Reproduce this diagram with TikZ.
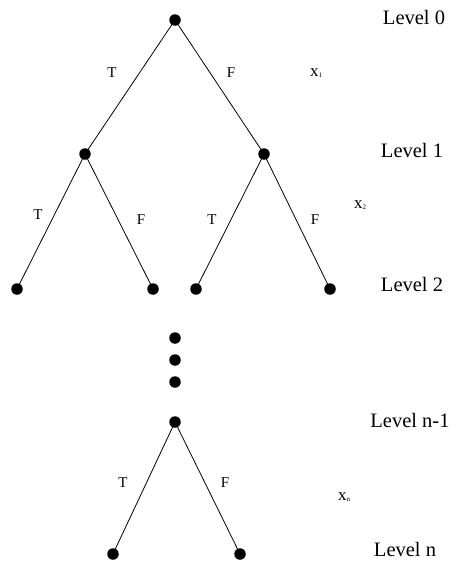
\documentclass[tikz,border=0pt]{standalone}
\usepackage{fontspec}
\setmainfont{Liberation Serif}
\begin{document}
\begin{tikzpicture}[x=1pt,y=-1pt,
  dot/.style={circle,fill=black,inner sep=0pt,minimum size=11.5pt},
  edge/.style={draw=black,line width=0.8pt},
  lvl/.style={font=\fontsize{20.5}{24}\selectfont,inner sep=0pt},
  br/.style={font=\fontsize{15}{17}\selectfont,inner sep=0pt},
  var/.style={font=\fontsize{17}{19}\selectfont,inner sep=0pt}]
\useasboundingbox (0,0) rectangle (459,565);
% nodes
\node[dot] (r) at (175,20) {};
\node[dot] (a) at (85,154) {};
\node[dot] (b) at (264,154) {};
\node[dot] (a1) at (17,289) {};
\node[dot] (a2) at (153,289) {};
\node[dot] (b1) at (196,289) {};
\node[dot] (b2) at (330,289) {};
\node[dot] (d1) at (175,338) {};
\node[dot] (d2) at (175,360) {};
\node[dot] (d3) at (175,382) {};
\node[dot] (m) at (175,422) {};
\node[dot] (m1) at (113,554) {};
\node[dot] (m2) at (240,554) {};
% edges
\draw[edge] (r.center) -- (a.center);
\draw[edge] (r.center) -- (b.center);
\draw[edge] (a.center) -- (a1.center);
\draw[edge] (a.center) -- (a2.center);
\draw[edge] (b.center) -- (b1.center);
\draw[edge] (b.center) -- (b2.center);
\draw[edge] (m.center) -- (m1.center);
\draw[edge] (m.center) -- (m2.center);
% branch labels
\node[br] (t0) at (112,73) {T};
\node[br] (f0) at (231,73) {F};
\node[br] (t1) at (38,215) {T};
\node[br] (f1) at (141,220) {F};
\node[br] (t2) at (212,220) {T};
\node[br] (f2) at (315,220) {F};
\node[br] (t3) at (123,483) {T};
\node[br] (f3) at (225,483) {F};
% variables
\node[var] (x1) at (316,73) {x\raisebox{-0.2ex}{\fontsize{7}{8}\selectfont 1}};
\node[var] (x2) at (360,205) {x\raisebox{-0.2ex}{\fontsize{7}{8}\selectfont 2}};
\node[var] (xn) at (344,497) {x\raisebox{-0.2ex}{\fontsize{7}{8}\selectfont n}};
% levels
\node[lvl] (l0) at (414,17) {Level 0};
\node[lvl] (l1) at (412,150) {Level 1};
\node[lvl] (l2) at (412,284) {Level 2};
\node[lvl] (l3) at (410,420) {Level n-1};
\node[lvl] (l4) at (405,549) {Level n};
\end{tikzpicture}
\end{document}
